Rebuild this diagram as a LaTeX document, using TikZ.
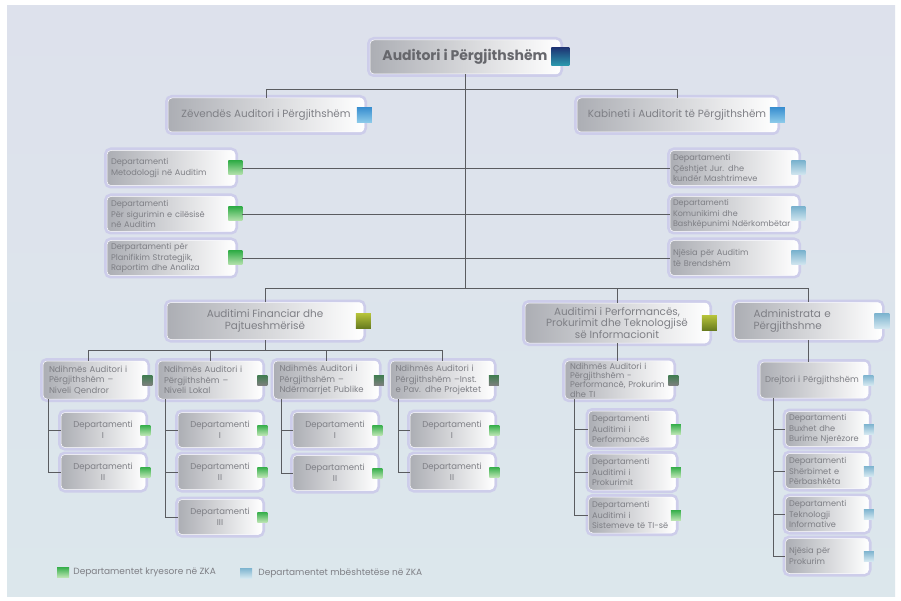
\documentclass[tikz,border=0pt]{standalone}
\usepackage{fontspec}
\setmainfont{Poppins}
\usetikzlibrary{positioning}

\definecolor{bgtop}{HTML}{DDE1EC}
\definecolor{bgbot}{HTML}{DCE7EC}
\definecolor{boxgray}{HTML}{ACAEB4}
\definecolor{boxmid}{HTML}{DADBE0}
\definecolor{glowc}{HTML}{CDCDEA}
\definecolor{txtgray}{HTML}{7E7F85}
\definecolor{ttlgray}{HTML}{66676C}
\definecolor{linec}{HTML}{5A5C60}
\definecolor{grtop}{HTML}{35AE4A}
\definecolor{grbot}{HTML}{B8E3B0}
\definecolor{bltop}{HTML}{7DB4CF}
\definecolor{blbot}{HTML}{D3E7F0}
\definecolor{oltop}{HTML}{B5C23A}
\definecolor{olbot}{HTML}{667A1E}
\definecolor{dgtop}{HTML}{3F7D50}
\definecolor{dgbot}{HTML}{7B7F7D}
\definecolor{nvtop}{HTML}{1E3775}
\definecolor{nvbot}{HTML}{2C9DB0}
\definecolor{cytop}{HTML}{3A8FD0}
\definecolor{cybot}{HTML}{8DCBEA}

\tikzset{
  box/.style={rectangle, rounded corners=4pt, draw=white, line width=0.5pt,
    left color=boxgray, middle color=boxmid, right color=white,
    preaction={draw=glowc, line width=6pt},
    inner xsep=5pt, inner ysep=2pt, text=txtgray,
    execute at begin node={\hyphenpenalty=10000}},
  sq/.style={rectangle, inner sep=0pt, minimum size=#1},
  grn/.style={top color=grtop, bottom color=grbot},
  lbl/.style={top color=bltop, bottom color=blbot},
  olv/.style={top color=oltop, bottom color=olbot},
  dkg/.style={top color=dgtop, bottom color=dgbot},
  nvy/.style={top color=nvtop, bottom color=nvbot},
  cyn/.style={top color=cytop, bottom color=cybot},
  ttl/.style={font=\bfseries\fontsize{14}{16}\selectfont, text=ttlgray},
  f10/.style={font=\fontsize{10.4}{11.8}\selectfont},
  f85/.style={font=\fontsize{8.5}{10.5}\selectfont},
  f8/.style={font=\fontsize{8.2}{10.5}\selectfont},
  ln/.style={draw=linec, line width=0.7pt},
}

\begin{document}
\begin{tikzpicture}[x=1pt,y=-1pt]
  % background
  \useasboundingbox (0,0) rectangle (901,601);
  \fill[white] (0,0) rectangle (901,601);
  \fill[top color=bgtop, bottom color=bgbot] (7,6) rectangle (895,596);

  % Fixed coordinates
  \coordinate (topbar) at (0,89);
  \coordinate (midbar) at (0,288);
  \coordinate (finbar) at (0,350);

  % top level
  \node (ag) at (465,57) [box, ttl, minimum width=190pt, minimum height=34pt] {Auditori i Përgjithshëm};
  \node (agi) at (ag.east) [sq=18pt, nvy] {};
  \node (zv) at (266,115) [box, f10, minimum width=196pt, minimum height=34pt] {Zëvendës Auditori i Përgjithshëm};
  \node (zvi) at (zv.east) [sq=15pt, cyn] {};
  \node (kb) at (677,115) [box, f10, minimum width=200pt, minimum height=34pt] {Kabineti i Auditorit të Përgjithshëm};
  \node (kbi) at (kb.east) [sq=15pt, cyn] {};

  % departments beside the trunk
  \node (l1) at (171,168) [box, f8, inner xsep=4pt, minimum width=128pt, minimum height=35pt, text width=120pt, align=left] {Departamenti\\Metodologji në Auditim};
  \node (l2) at (171,214) [box, f8, inner xsep=4pt, minimum width=128pt, minimum height=35pt, text width=120pt, align=left] {Departamenti\\Për sigurimin e cilësisë\\në Auditim};
  \node (l3) at (171,258) [box, f8, inner xsep=4pt, minimum width=128pt, minimum height=35pt, text width=120pt, align=left] {Derpartamenti për\\Planifikim Strategjik,\\Raportim dhe Analiza};
  \node (l1i) at (l1.east) [sq=14pt, grn] {};
  \node (l2i) at (l2.east) [sq=14pt, grn] {};
  \node (l3i) at (l3.east) [sq=14pt, grn] {};
  \node (r1) at (734,168) [box, f8, inner xsep=3pt, minimum width=128pt, minimum height=35pt, text width=122pt, align=left] {Departamenti\\Çështjet Jur. dhe\\kundër Mashtrimeve};
  \node (r2) at (734,214) [box, font=\fontsize{8}{10.5}\selectfont, inner xsep=3pt, minimum width=128pt, minimum height=35pt, text width=122pt, align=left] {Departamenti\\Komunikimi dhe\\Bashkëpunimi~Ndërkombëtar};
  \node (r3) at (734,258) [box, f8, inner xsep=3pt, minimum width=128pt, minimum height=35pt, text width=122pt, align=left] {Njësia për Auditim\\të Brendshëm};
  \node (r1i) at (r1.east) [sq=14pt, lbl] {};
  \node (r2i) at (r2.east) [sq=14pt, lbl] {};
  \node (r3i) at (r3.east) [sq=14pt, lbl] {};

  % second level
  \node (fin) at (265,321) [box, f10, minimum width=196pt, minimum height=37pt, align=center] {Auditimi Financiar dhe\\Pajtueshmërisë};
  \node (fini) at (fin.east) [sq=15pt, olv] {};
  \node (prf) at (617,323) [box, f10, minimum width=184pt, minimum height=40pt, align=center] {Auditimi i Performancës,\\Prokurimit dhe Teknologjisë\\së Informacionit};
  \node (prfi) at (prf.east) [sq=15pt, olv] {};
  \node (adm) at (808,321) [box, f10, minimum width=147pt, minimum height=37pt, text width=109pt, align=left] {Administrata e\\Përgjithshme};
  \node (admi) at (adm.east) [sq=15pt, lbl] {};

  % assistants
  \node (s1) at (95,380) [box, f85, inner xsep=6pt, minimum width=104pt, minimum height=38pt, text width=92pt, align=left] {Ndihmës Auditori i\\Përgjithshëm –\\Niveli Qendror};
  \node (s2) at (210,380) [box, f85, inner xsep=6pt, minimum width=104pt, minimum height=38pt, text width=92pt, align=left] {Ndihmës Auditori i\\Përgjithshëm –\\Niveli Lokal};
  \node (s3) at (326,380) [box, f85, inner xsep=6pt, minimum width=105pt, minimum height=38pt, text width=93pt, align=left] {Ndihmës Auditori i\\Përgjithshëm –\\Ndërmarrjet Publike};
  \node (s4) at (442,380) [box, f85, inner xsep=5pt, minimum width=103pt, minimum height=38pt, text width=93pt, align=left] {Ndihmës Auditori i\\Përgjithshëm –Inst.\\e Pav. dhe Projektet};
  \node (pp) at (619,380) [box, font=\fontsize{8.3}{9.3}\selectfont, minimum width=108pt, minimum height=38pt, text width=98pt, align=left] {Ndihmës Auditori i\\Përgjithshëm -\\Performancë, Prokurim\\dhe TI};
  \node (dr) at (814,380) [box, f85, minimum width=108pt, minimum height=36pt, text width=98pt, align=left] {Drejtori i Përgjithshëm};
  \node (s1i) at (s1.east) [sq=10pt, dkg] {};
  \node (s2i) at (s2.east) [sq=10pt, dkg] {};
  \node (s3i) at (s3.east) [sq=10pt, dkg] {};
  \node (s4i) at (s4.east) [sq=10pt, dkg] {};
  \node (ppi) at (pp.east) [sq=10pt, dkg] {};
  \node (dri) at (dr.east) [sq=10pt, lbl] {};

  % departments
  \node (a1) at (103,430) [box, f85, minimum width=84pt, minimum height=35pt, align=center] {Departamenti\\I};
  \node (a2) at (103,472) [box, f85, minimum width=84pt, minimum height=35pt, align=center] {Departamenti\\II};
  \node (b1) at (220,430) [box, f85, minimum width=84pt, minimum height=35pt, align=center] {Departamenti\\I};
  \node (b2) at (220,472) [box, f85, minimum width=84pt, minimum height=35pt, align=center] {Departamenti\\II};
  \node (b3) at (220,517) [box, f85, minimum width=84pt, minimum height=35pt, align=center] {Departamenti\\III};
  \node (c1) at (335,430) [box, f85, minimum width=84pt, minimum height=35pt, align=center] {Departamenti\\I};
  \node (c2) at (335,473) [box, f85, minimum width=84pt, minimum height=35pt, align=center] {Departamenti\\II};
  \node (d1) at (452,430) [box, f85, minimum width=84pt, minimum height=35pt, align=center] {Departamenti\\I};
  \node (d2) at (452,472) [box, f85, minimum width=84pt, minimum height=35pt, align=center] {Departamenti\\II};
  \node (p1) at (632,429) [box, f8, inner xsep=3.5pt, minimum width=87pt, minimum height=36pt, text width=80pt, align=left] {Departamenti\\Auditimi i\\Performancës};
  \node (p2) at (632,472) [box, f8, inner xsep=3.5pt, minimum width=87pt, minimum height=36pt, text width=80pt, align=left] {Departamenti\\Auditimi i\\Prokurimit};
  \node (p3) at (632,515) [box, f8, inner xsep=3.5pt, minimum width=87pt, minimum height=36pt, text width=80pt, align=left] {Departamenti\\Auditimi i\\Sistemeve të TI-së};
  \node (q1) at (827,429) [box, f8, inner xsep=3.5pt, minimum width=83pt, minimum height=35pt, text width=76pt, align=left] {Departamenti\\Buxhet dhe\\Burime Njerëzore};
  \node (q2) at (827,471) [box, f8, inner xsep=3.5pt, minimum width=83pt, minimum height=35pt, text width=76pt, align=left] {Departamenti\\Shërbimet e\\Përbashkëta};
  \node (q3) at (827,514) [box, f8, inner xsep=3.5pt, minimum width=83pt, minimum height=35pt, text width=76pt, align=left] {Departamenti\\Teknologji\\Informative};
  \node (q4) at (827,556) [box, f8, inner xsep=3.5pt, minimum width=83pt, minimum height=35pt, text width=76pt, align=left] {Njësia për\\Prokurim};
  \foreach \d in {a1,a2,b1,b2,b3,c1,c2,d1,d2,p1,p2,p3}
    \node (\d i) at (\d.east) [sq=10pt, grn] {};
  \foreach \d in {q1,q2,q3,q4}
    \node (\d i) at (\d.east) [sq=10pt, lbl] {};

  % connectors
  \draw[ln] (ag.south) -- (ag.south |- midbar);
  \draw[ln] (zv.north) |- (topbar -| kb.north) -- (kb.north);
  \foreach \d in {l1i,l2i,l3i}
    \draw[ln] (\d.east) -- (\d.east -| ag.south);
  \foreach \d in {r1,r2,r3}
    \draw[ln] (ag.south |- \d.west) -- (\d.west);
  \draw[ln] (fin.north) |- (midbar -| adm.north) -- (adm.north);
  \draw[ln] (prf.north) -- (prf.north |- midbar);
  \draw[ln] ([xshift=-7pt]s1.north) |- (finbar -| s4.north) -- (s4.north);
  \draw[ln] (fin.south) -- (fin.south |- finbar);
  \draw[ln] (s2.north) -- (s2.north |- finbar);
  \draw[ln] (s3.north) -- (s3.north |- finbar);
  \draw[ln] (prf.south) -- (pp.north -| prf.south);
  \draw[ln] (adm.south) -- (dr.north -| adm.south);
  \foreach \d in {a1,a2}
    \draw[ln] ([xshift=6pt]s1.south west) |- (\d.west);
  \foreach \d in {b1,b2,b3}
    \draw[ln] ([xshift=8pt]s2.south west) |- (\d.west);
  \foreach \d in {c1,c2}
    \draw[ln] ([xshift=8.5pt]s3.south west) |- (\d.west);
  \foreach \d in {d1,d2}
    \draw[ln] ([xshift=8.5pt]s4.south west) |- (\d.west);
  \foreach \d in {p1,p2,p3}
    \draw[ln] ([xshift=10pt]pp.south west) |- (\d.west);
  \foreach \d in {q1,q2,q3,q4}
    \draw[ln] ([xshift=14pt]dr.south west) |- (\d.west);

  % legend
  \node (lg1) at (63,572) [rectangle, inner sep=0pt, minimum width=12pt, minimum height=10pt, grn] {};
  \node (lg1t) [right=4pt of lg1, font=\fontsize{9}{11}\selectfont, text=txtgray, inner sep=0pt] {Departamentet kryesore në ZKA};
  \node (lg2) at (246,573) [rectangle, inner sep=0pt, minimum width=12pt, minimum height=10pt, lbl] {};
  \node (lg2t) [right=6pt of lg2, font=\fontsize{9}{11}\selectfont, text=txtgray, inner sep=0pt] {Departamentet mbështetëse në ZKA};
\end{tikzpicture}
\end{document}
